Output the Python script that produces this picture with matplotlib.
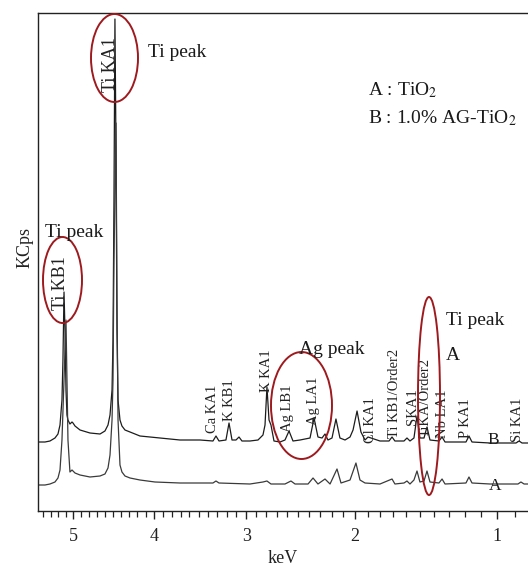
import numpy as np
import matplotlib
matplotlib.use("Agg")
import matplotlib.pyplot as plt
from matplotlib.patches import Ellipse
from matplotlib.ticker import FixedLocator, MultipleLocator

# ---- data (energy in keV, intensity in arbitrary KCps units)
energy_B = [5.471, 5.376, 5.309, 5.242, 5.202, 5.175, 5.149, 5.136, 5.122, 5.109,
            5.096, 5.083, 5.070, 5.044, 5.017, 5.004, 4.978, 4.913, 4.785, 4.658,
            4.596, 4.558, 4.533, 4.508, 4.496, 4.484, 4.472, 4.459, 4.447, 4.434,
            4.410, 4.386, 4.349, 4.288, 4.228, 4.169, 4.050, 3.934, 3.706, 3.485,
            3.345, 3.313, 3.281, 3.208, 3.176, 3.145, 3.104, 3.073, 3.043, 2.962,
            2.882, 2.833, 2.813, 2.794, 2.774, 2.755, 2.726, 2.668, 2.621, 2.583,
            2.546, 2.481, 2.390, 2.354, 2.319, 2.283, 2.257, 2.231, 2.196, 2.162,
            2.128, 2.085, 2.043, 2.018, 1.985, 1.953, 1.920, 1.896, 1.801, 1.731,
            1.708, 1.686, 1.618, 1.596, 1.574, 1.545, 1.523, 1.502, 1.473, 1.452,
            1.431, 1.369, 1.348, 1.328, 1.262, 1.191, 1.172, 1.153, 1.043, 0.894,
            0.877, 0.861, 0.829]
counts_B = [69, 69, 70, 73, 77, 86, 111, 151, 219, 181,
            121, 96, 91, 87, 89, 88, 85, 81, 78, 77,
            80, 86, 96, 121, 171, 311, 492, 361, 181, 111,
            91, 85, 81, 79, 77, 75, 74, 73, 71, 71,
            70, 75, 70, 71, 88, 71, 71, 74, 70, 70,
            71, 76, 86, 124, 91, 86, 70, 69, 71, 80,
            70, 71, 73, 93, 74, 73, 77, 71, 73, 92,
            73, 71, 74, 81, 100, 79, 71, 74, 70, 70,
            74, 70, 70, 73, 70, 73, 95, 73, 73, 84,
            71, 70, 74, 69, 69, 69, 75, 69, 68, 68,
            70, 68, 68]

energy_A = [5.471, 5.376, 5.309, 5.242, 5.202, 5.175, 5.149, 5.122, 5.096, 5.083,
            5.070, 5.044, 5.017, 4.978, 4.913, 4.785, 4.658, 4.596, 4.558, 4.533,
            4.508, 4.496, 4.484, 4.459, 4.447, 4.434, 4.410, 4.386, 4.349, 4.288,
            4.169, 3.992, 3.706, 3.485, 3.345, 3.313, 3.281, 2.962, 2.833, 2.794,
            2.755, 2.621, 2.565, 2.527, 2.408, 2.363, 2.319, 2.257, 2.213, 2.153,
            2.119, 2.043, 1.994, 1.961, 1.920, 1.801, 1.708, 1.686, 1.618, 1.596,
            1.574, 1.545, 1.523, 1.502, 1.473, 1.452, 1.431, 1.369, 1.348, 1.328,
            1.191, 1.172, 1.153, 1.043, 0.883, 0.867, 0.850, 0.829]
counts_A = [26, 26, 27, 29, 33, 41, 71, 131, 191, 131,
            71, 39, 41, 38, 36, 34, 35, 37, 43, 56,
            91, 131, 251, 388, 211, 91, 46, 39, 35, 33,
            31, 29, 28, 28, 28, 30, 28, 27, 29, 30,
            27, 27, 30, 27, 27, 33, 27, 32, 27, 42,
            28, 31, 48, 31, 28, 27, 32, 27, 28, 30,
            27, 31, 40, 29, 30, 40, 29, 28, 32, 27,
            28, 34, 28, 27, 27, 29, 27, 27]

# peak labels: text, energy, height of the label foot
peak_names = ["Ti KA1", "Ti KB1", "Ca KA1", "K KB1", "K KA1", "Ag LB1", "Ag LA1",
              "Cl KA1", "Ti KB1/Order2", "SKA1", "TiKA/Order2", "Nb LA1", "P KA1", "Si KA1"]
peak_energy = [4.533, 5.162, 3.345, 3.176, 2.803, 2.593, 2.363,
               1.872, 1.686, 1.552, 1.466, 1.348, 1.191, 0.888]
peak_label_y = [419, 201, 78, 90, 119, 79, 86, 68, 73, 86, 74, 73, 73, 69]

xticks = [5, 4, 3, 2, 1]
xtick_labels = ["5", "4", "3", "2", "1"]

plt.rcParams["font.family"] = ["Liberation Serif", "DejaVu Serif"]
plt.rcParams["mathtext.fontset"] = "stix"

W, H = 528, 574
fig = plt.figure(figsize=(W / 100, H / 100), dpi=100)

# main axes (pixel box: left 38, top 13, bottom 511, open on the right)
ax = fig.add_axes([38 / W, (H - 511) / H, (W - 38) / W, 498 / H])
ax.set_xscale("function", functions=(np.sqrt, np.square))
ax.set_xlim(5.471, 0.829)
ax.set_ylim(0, 498)

ax.plot(energy_B, counts_B, color="#1c1c1c", lw=0.9)
ax.plot(energy_A, counts_A, color="#3a3a3a", lw=0.9)

for name, e, yb in zip(peak_names, peak_energy, peak_label_y):
    big = name in ("Ti KA1", "Ti KB1")
    ax.text(e, yb, name, rotation=90, ha="center", va="bottom",
            fontsize=13 if big else 10.5, color="#222222", zorder=5)

ax.xaxis.set_major_locator(FixedLocator(xticks))
ax.set_xticklabels(xtick_labels)
ax.xaxis.set_minor_locator(MultipleLocator(0.1))
ax.set_yticks([])
ax.tick_params(axis="x", which="major", direction="out", length=6, width=1,
               pad=6, labelsize=13, colors="#222222")
ax.tick_params(axis="x", which="minor", direction="out", length=4, width=0.9,
               colors="#222222")

for side in ("left", "bottom", "top"):
    ax.spines[side].set_linewidth(1.0)
    ax.spines[side].set_color("#222222")
ax.spines["right"].set_visible(False)

ax.set_xlabel("keV", fontsize=13, labelpad=4, color="#222222")
ax.set_ylabel("KCps", fontsize=13, color="#222222")
ax.yaxis.set_label_coords(-0.010, 0.53)

# overlay in pixel coordinates for the hand-drawn annotations
ov = fig.add_axes([0, 0, 1, 1], zorder=10)
ov.set_xlim(0, W)
ov.set_ylim(H, 0)
ov.axis("off")

red = "#9e1a1e"
for cx, cy, w, h in [(114.5, 58, 47, 88), (62.5, 280, 39, 86),
                     (301.5, 405.5, 61, 107), (429, 396, 22, 198)]:
    ov.add_patch(Ellipse((cx, cy), w, h, fill=False, edgecolor=red, lw=1.4))

big_fs = 14
ov.text(148, 57, "Ti peak", fontsize=big_fs, va="baseline", color="#1a1a1a")
ov.text(45, 237, "Ti peak", fontsize=big_fs, va="baseline", color="#1a1a1a")
ov.text(299, 354, "Ag peak", fontsize=big_fs, va="baseline", color="#1a1a1a")
ov.text(446, 325, "Ti peak", fontsize=big_fs, va="baseline", color="#1a1a1a")
ov.text(446, 360, "A", fontsize=big_fs, va="baseline", color="#1a1a1a")
ov.text(368, 95, "A : TiO$_2$", fontsize=big_fs, va="baseline", color="#1a1a1a")
ov.text(368, 123, "B : 1.0% AG-TiO$_2$", fontsize=big_fs, va="baseline",
        color="#1a1a1a")
ov.text(487, 444, "B", fontsize=12.5, va="baseline", color="#1a1a1a")
ov.text(489, 490, "A", fontsize=12.5, va="baseline", color="#1a1a1a")

fig.savefig("out.png", dpi=100)
